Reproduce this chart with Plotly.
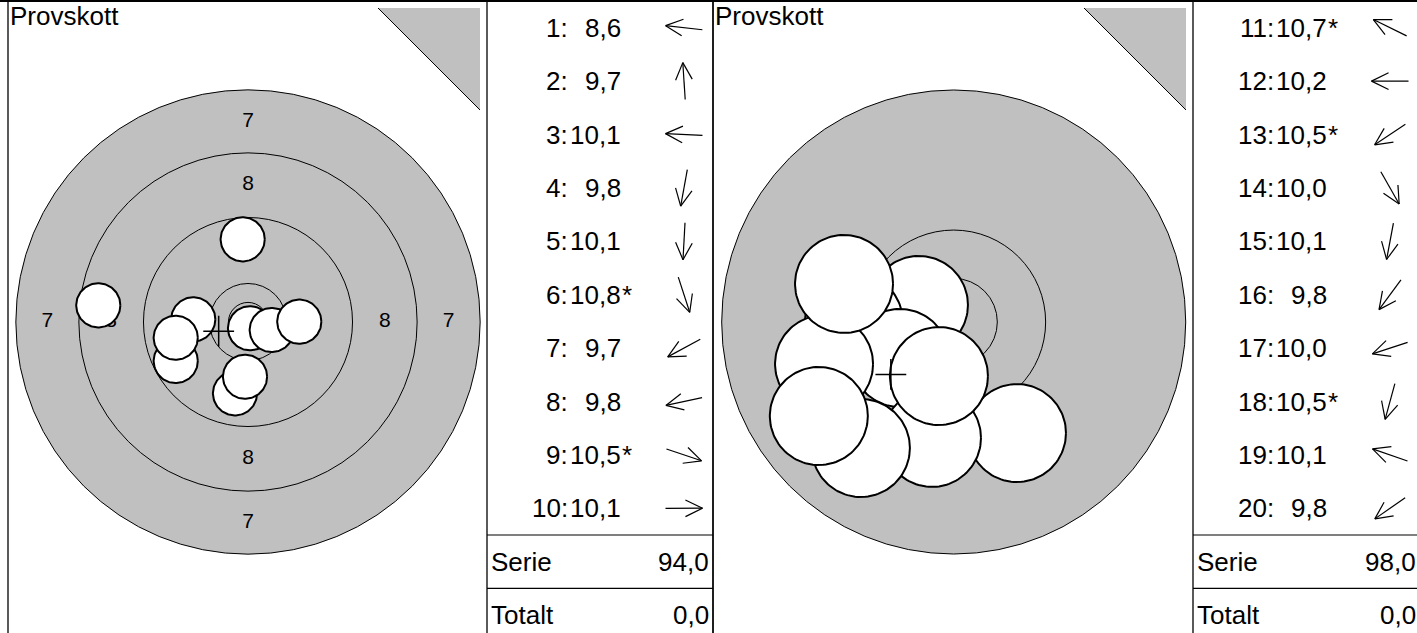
import math
import numpy as np
import plotly.graph_objects as go

W, H = 1417, 633

# ---------------- data ----------------
title_text = "Provskott"

# series 1 : shots 1-10 (x, y in mm from target centre, y up)
s1_numbers = [1, 2, 3, 4, 5, 6, 7, 8, 9, 10]
s1_scores = [8.6, 9.7, 10.1, 9.8, 10.1, 10.8, 9.7, 9.8, 10.5, 10.1]
s1_inner = [0, 0, 0, 0, 0, 1, 0, 0, 1, 0]
s1_x = [-19.12, -0.68, -6.99, -1.66, -0.38, 0.26, -9.23, -9.23, 3.03, 6.55]
s1_y = [2.13, 10.56, 0.34, -9.11, -6.99, -0.80, -4.98, -2.01, -1.02, 0.04]

# series 2 : shots 11-20
s2_numbers = [11, 12, 13, 14, 15, 16, 17, 18, 19, 20]
s2_scores = [10.7, 10.2, 10.5, 10.0, 10.1, 9.8, 10.0, 10.5, 10.1, 9.8]
s2_inner = [1, 0, 1, 0, 0, 0, 0, 1, 0, 0]
s2_x = [-2.00, -5.74, -3.09, 3.64, -1.25, -5.34, -7.46, -0.85, -6.31, -7.76]
s2_y = [0.98, 0.00, -2.07, -6.39, -6.67, -7.25, -2.42, -3.11, 2.19, -5.41]

ring_radii_left = [29.65, 21.6, 13.35, 4.92, 2.5]
ring_labels_left = ["7", "8"]
ring_radii_right = [13.35, 5.29, 2.51]
ring_labels_right = []
shot_radius = 2.82
summary_labels = ["Serie", "Totalt"]
totalt_values = [0.0, 0.0]

# ---------------- style / layout constants ----------------
BLACK = "black"
GREY = "#c0c0c0"
FONT = "Liberation Sans, Arial, sans-serif"
TXT = 26
TOP = 1.0
ROW_H = 53.4


def px(x):
    return x / W


def py(y):
    return 1 - y / H


def fmt(v):
    return f"{v:.1f}".replace(".", ",")


panels = [
    dict(numbers=s1_numbers, scores=s1_scores, inner=s1_inner, xs=s1_x, ys=s1_y,
         rings=ring_radii_left, labels=ring_labels_left,
         x0=8, x1=487, x2=713, cx=248.0, cy=322.0, scale=7.83,
         tri=(378, 480, 8, 110), xa="x", ya="y"),
    dict(numbers=s2_numbers, scores=s2_scores, inner=s2_inner, xs=s2_x, ys=s2_y,
         rings=ring_radii_right, labels=ring_labels_right,
         x0=713, x1=1193, x2=1419, cx=953.7, cy=322.0, scale=17.38,
         tri=(1084, 1186, 8, 110), xa="x2", ya="y2"),
]

shapes = []
annotations = []
traces = []
layout_axes = {}


def line(xa, ya, xb, yb, width=1.0, color=BLACK):
    shapes.append(dict(type="line", xref="paper", yref="paper",
                       x0=px(xa), y0=py(ya), x1=px(xb), y1=py(yb),
                       line=dict(color=color, width=width), layer="above"))


def text(x, y, s, xanchor, size=TXT):
    annotations.append(dict(x=px(x), y=py(y), xref="paper", yref="paper",
                            text=s, showarrow=False, xanchor=xanchor,
                            yanchor="middle", borderpad=0, borderwidth=0,
                            font=dict(family=FONT, size=size, color=BLACK)))


theta = np.linspace(0, 2 * np.pi, 120)

for k, p in enumerate(panels):
    xa, ya = p["xa"], p["ya"]
    axn = "" if k == 0 else str(k + 1)
    s = p["scale"]
    layout_axes["xaxis" + axn] = dict(domain=[px(p["x0"]), px(p["x1"])],
                                      range=[(p["x0"] - p["cx"]) / s, (p["x1"] - p["cx"]) / s],
                                      visible=False, fixedrange=True)
    layout_axes["yaxis" + axn] = dict(domain=[0, 1],
                                      range=[(p["cy"] - H) / s, p["cy"] / s],
                                      visible=False, fixedrange=True,
                                      anchor=xa)
    if k:
        layout_axes["xaxis" + axn]["anchor"] = ya

    # target rings
    for i, r in enumerate(p["rings"]):
        shapes.append(dict(type="circle", xref=xa, yref=ya, x0=-r, x1=r, y0=-r, y1=r,
                           layer="below",
                           fillcolor=GREY if i == 0 else "rgba(0,0,0,0)",
                           line=dict(color=BLACK, width=1)))
    # ring labels
    lx, ly, lt = [], [], []
    for i, lab in enumerate(p["labels"]):
        rm = (p["rings"][i] + p["rings"][i + 1]) / 2
        for dx, dy in [(0, 1), (0, -1), (-1, 0), (1, 0)]:
            lx.append(dx * rm)
            ly.append(dy * rm)
            lt.append(lab)
    if lt:
        traces.append(go.Scatter(x=lx, y=ly, text=lt, mode="text", xaxis=xa, yaxis=ya,
                                 textposition="middle center",
                                 textfont=dict(family=FONT, size=21, color=BLACK),
                                 hoverinfo="skip", showlegend=False))
    # shots
    for sx, sy in zip(p["xs"], p["ys"]):
        traces.append(go.Scatter(x=sx + shot_radius * np.cos(theta),
                                 y=sy + shot_radius * np.sin(theta),
                                 mode="lines", fill="toself", fillcolor="white",
                                 line=dict(color=BLACK, width=2),
                                 xaxis=xa, yaxis=ya, hoverinfo="skip", showlegend=False))
    # mean point of impact
    traces.append(go.Scatter(x=[float(np.mean(p["xs"]))], y=[float(np.mean(p["ys"]))],
                             mode="markers", xaxis=xa, yaxis=ya,
                             marker=dict(symbol="cross-thin", size=22, color=BLACK,
                                         line=dict(color=BLACK, width=1.5)),
                             hoverinfo="skip", showlegend=False))

    # corner triangle
    tx0, tx1, ty0, ty1 = p["tri"]
    shapes.append(dict(type="path", xref="paper", yref="paper",
                       path=f"M {px(tx0)},{py(ty0)} L {px(tx1)},{py(ty0)} L {px(tx1)},{py(ty1)} Z",
                       fillcolor=GREY, line=dict(width=0), layer="above"))
    line(tx0, ty0, tx1, ty1, width=1)

    # borders
    line(p["x0"], TOP, p["x0"], H, width=1.3)
    line(p["x1"], TOP, p["x1"], H, width=1.3)
    line(p["x2"], TOP, p["x2"], H, width=1.3)
    sep1 = TOP + ROW_H * 10
    sep2 = TOP + ROW_H * 11
    line(p["x1"], sep1, p["x2"], sep1, width=1.1)
    line(p["x1"], sep2, p["x2"], sep2, width=1.1)

    # title
    text(p["x0"] + 2, 16.5, title_text, "left")

    # shot list
    L, HL, HA = 37.0, 19.0, math.radians(26)
    ax_c = p["x1"] + 197
    for i, (n, sc, inn, sx, sy) in enumerate(zip(p["numbers"], p["scores"], p["inner"], p["xs"], p["ys"])):
        yc = TOP + ROW_H * (i + 0.5)
        text(p["x1"] + 81, yc, f"{n}:", "right")
        text(p["x1"] + 134, yc, fmt(sc), "right")
        if inn:
            text(p["x1"] + 134.5, yc, "*", "left")
        ang = math.atan2(sy, sx)
        dx, dy = math.cos(ang), -math.sin(ang)
        tipx, tipy = ax_c + dx * L / 2, yc + dy * L / 2
        line(ax_c - dx * L / 2, yc - dy * L / 2, tipx, tipy, width=1.2)
        for sgn in (1, -1):
            a2 = math.atan2(-dy, -dx) + sgn * HA
            line(tipx, tipy, tipx + HL * math.cos(a2), tipy + HL * math.sin(a2), width=1.2)

    serie = sum(int(v) for v in p["scores"])
    yc = TOP + ROW_H * 10.5
    text(p["x1"] + 4, yc, summary_labels[0], "left")
    text(p["x2"] - 3.5, yc, fmt(serie), "right")
    yc = TOP + ROW_H * 11.5
    text(p["x1"] + 4, yc, summary_labels[1], "left")
    text(p["x2"] - 3.5, yc, fmt(totalt_values[k]), "right")

# top rule
line(0, TOP, W, TOP, width=2)

fig = go.Figure(data=traces)
fig.update_layout(width=W, height=H, autosize=False,
                  margin=dict(l=0, r=0, t=0, b=0, pad=0),
                  paper_bgcolor="white", plot_bgcolor="rgba(0,0,0,0)",
                  showlegend=False, shapes=shapes, annotations=annotations,
                  **layout_axes)
fig.write_html("out.html", config={"displayModeBar": False},
               post_script="document.body.style.margin='0px';document.body.style.overflow='hidden';")
